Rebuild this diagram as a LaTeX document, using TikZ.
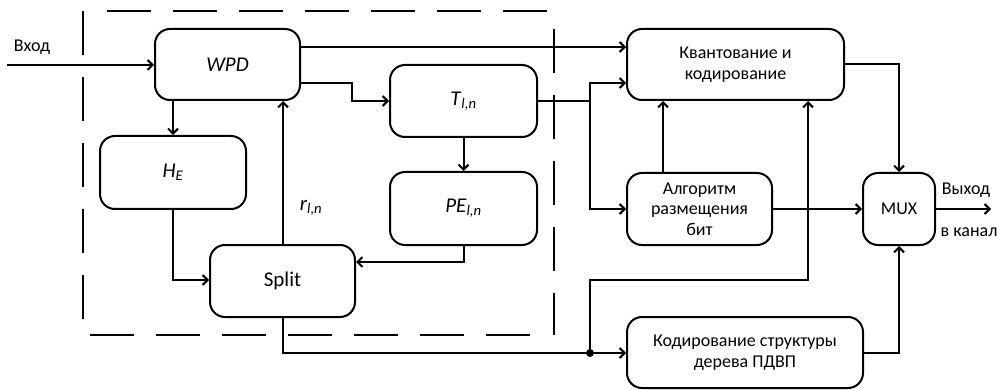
\documentclass[tikz,border=0pt]{standalone}
\usepackage{fontspec}
\setmainfont{Carlito}
\usetikzlibrary{arrows.meta}
\begin{document}
\begin{tikzpicture}[x=1pt,y=-1pt,
  line width=2pt, line join=miter,
  blk/.style={draw, rounded corners=15pt, line width=2pt, align=center, inner sep=0pt},
  big/.style={font=\fontsize{21}{24}\selectfont},
  small/.style={font=\fontsize{18}{20.5}\selectfont},
  arr/.style={-{Straight Barb[length=5pt,width=10pt,line width=2pt]}},
  frame/.style={line width=2pt, dash pattern=on 44pt off 22pt},
  lbl/.style={inner sep=0pt, font=\fontsize{18}{20}\selectfont}]
\useasboundingbox (0,0) rectangle (1001,390);

% dashed frame around the decomposition stage
\draw[frame] (107,11) -- (554,11);
\draw[frame] (83,11) -- (83,320);
\draw[frame] (554,29) -- (554,335);
\draw[frame] (90,335) -- (540,335);

% blocks
\node[blk, big, minimum width=145pt, minimum height=71pt] (wpd) at (227.5,64.5) {\textit{WPD}};
\node[blk, big, minimum width=146pt, minimum height=73pt] (he) at (173,172.5) {\textit{H}\textsubscript{\textit{E}}};
\node[blk, big, minimum width=145pt, minimum height=72pt] (split) at (282.5,281) {Split};
\node[blk, big, minimum width=147pt, minimum height=72pt] (t) at (463.5,101) {\textit{T}\textsubscript{\textit{l,n}}};
\node[blk, big, minimum width=147pt, minimum height=73pt] (pe) at (463.5,208.5) {\textit{PE}\textsubscript{\textit{l,n}}};
\node[blk, small, minimum width=217pt, minimum height=71pt] (q) at (735.5,64.5) {Квантование и\\кодирование};
\node[blk, small, minimum width=145pt, minimum height=72pt] (alg) at (699.5,209) {Алгоритм\\размещения\\бит};
\node[blk, small, minimum width=72pt, minimum height=72pt] (mux) at (899,209) {MUX};
\node[blk, small, minimum width=236pt, minimum height=71pt] (tree) at (745,352.5) {Кодирование структуры\\дерева ПДВП};

% free ends and junctions
\coordinate (in) at (7,65);
\coordinate (out) at (991,209);
\coordinate (jt) at (590,101);
\coordinate (js) at (590,353);

% labels
\node[lbl] (vin) at (32,47) {Вход};
\node[lbl] (vout) at (966,190) {Выход};
\node[lbl] (vch) at (969,232) {в канал};
\node[big, inner sep=0pt] (r) at (311,208) {\textit{r}\textsubscript{\textit{l,n}}};

% connectors
\draw[arr] (in) -- (wpd.west |- in);
\draw[arr] (wpd.south -| he) -- (he.north);
\draw[arr] (he.south) |- (split.west |- 0,280);
\draw[arr] (split.north -| 283,0) -- (wpd.south -| 283,0);
\draw[arr] (wpd.east |- 0,47) -- (q.west |- 0,47);
\draw[arr] (wpd.east |- 0,83) -- (352,83) |- (t.west);
\draw[arr] (t.south) -- (pe.north);
\draw[arr] (pe.south) |- (split.east |- 0,262);
\draw (t.east) -- (jt);
\draw[arr] (jt) |- (q.west |- 0,83);
\draw[arr] (jt) |- (alg.west);
\draw[arr] (alg.north -| 663,0) -- (q.south -| 663,0);
\draw[arr] (alg.east) -- (mux.west);
\draw[arr] (q.east) -| (mux.north);
\draw[arr] (split.south -| 283,0) |- (js) -- (tree.west |- js);
\draw[arr] (js) -- (590,280) -| (q.south -| 808,0);
\draw[arr] (tree.east) -| (mux.south);
\draw[arr] (mux.east) -- (out);
\fill (js) circle (4pt);
\end{tikzpicture}
\end{document}
